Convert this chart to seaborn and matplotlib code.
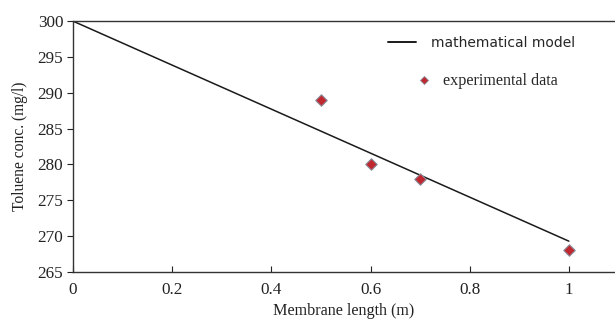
import numpy as np
import pandas as pd
import matplotlib.pyplot as plt
import seaborn as sns
from matplotlib.lines import Line2D

# model line (end points) and measured points
model_length = [0.0, 1.0]
model_conc = [300.0, 269.3]
exp_length = [0.5, 0.6, 0.7, 1.0]
exp_conc = [289.0, 280.0, 278.0, 268.0]

model_df = pd.DataFrame({"length": model_length, "conc": model_conc})
exp_df = pd.DataFrame({"length": exp_length, "conc": exp_conc})

sns.set_style("white")
plt.rcParams["font.family"] = ["Liberation Serif", "DejaVu Serif"]

fig = plt.figure(figsize=(6.15, 3.2), dpi=100)
ax = fig.add_axes([0.1187, 0.15, 0.8813, 0.784])

sns.lineplot(data=model_df, x="length", y="conc", ax=ax, color="#1a1a1a", lw=1.1)
sns.scatterplot(data=exp_df, x="length", y="conc", ax=ax, marker="D", s=34,
                color="#c0282f", edgecolor="#8a8a9a", linewidth=0.8, zorder=3)

ax.set_xlim(0, 1.093)
ax.set_ylim(265, 300)
ax.set_xticks([0, 0.2, 0.4, 0.6, 0.8, 1])
ax.set_xticklabels(["0", "0.2", "0.4", "0.6", "0.8", "1"])
ax.set_yticks(range(265, 301, 5))
ax.set_xlabel("Membrane length (m)", fontsize=11.6, labelpad=4, color="#222222")
ax.set_ylabel("Toluene conc. (mg/l)", fontsize=11.2, labelpad=7, color="#222222")
ax.tick_params(axis="y", direction="out", length=4, width=0.8, labelsize=12.3,
               colors="#222222", left=True, pad=3)
ax.tick_params(axis="x", direction="in", length=4, width=0.8, labelsize=12.3,
               colors="#222222", bottom=True, pad=7)

for side in ["left", "bottom", "top"]:
    ax.spines[side].set_color("#333333")
    ax.spines[side].set_linewidth(1.0)
ax.spines["right"].set_visible(False)

h1 = Line2D([], [], color="#1a1a1a", lw=1.4)
leg1 = ax.legend([h1], ["mathematical model"], frameon=False, loc="upper left",
                 bbox_to_anchor=(0.558, 0.99), handlelength=2.0, handletextpad=1.1,
                 prop={"family": "DejaVu Sans", "size": 10})
ax.add_artist(leg1)
h2 = Line2D([], [], ls="none", marker="D", markersize=4.5, color="#c0282f",
            markeredgecolor="#8a8a9a", markeredgewidth=0.6)
leg2 = ax.legend([h2], ["experimental data"], frameon=False, loc="upper left",
                 bbox_to_anchor=(0.606, 0.85), handlelength=1.0, handletextpad=0.7,
                 prop={"family": "Liberation Serif", "size": 11.6})

fig.savefig("out.png", dpi=100)
